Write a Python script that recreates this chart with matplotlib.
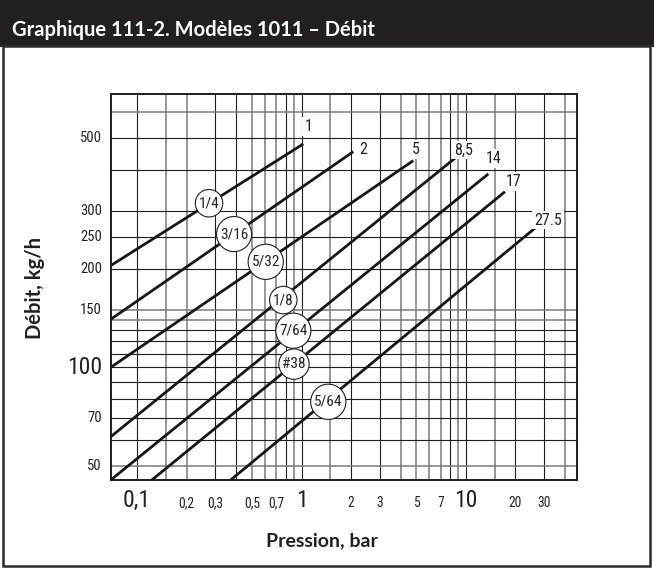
import matplotlib.pyplot as plt
from matplotlib.patches import Rectangle
from matplotlib.transforms import blended_transform_factory

# orifice lines (pressure in bar, flow in kg/h)
orifices = ['1/4', '3/16', '5/32', '1/8', '7/64', '#38', '5/64']
end_labels = ['1', '2', '5', '8,5', '14', '17', '27.5']
p_start = [0.0692, 0.0692, 0.0692, 0.0692, 0.0692, 0.123, 0.371]
q_start = [204.5, 140.2, 100.0, 61.4, 45.3, 45.3, 45.3]
p_end = [1.025, 2.065, 4.78, 8.57, 13.67, 17.26, 26.9]
q_end = [481, 455.6, 427.7, 435, 389.6, 343.8, 268.8]

# circled orifice tags along each line
tag_p = [0.274, 0.389, 0.606, 0.775, 0.892, 0.900, 1.455]
tag_q = [317, 255.3, 210, 160.5, 129.4, 102.3, 78.5]

# number at the end of each line
lab_p = [1.10, 2.375, 4.97, 9.63, 14.66, 19.4, 31.6]
lab_q = [543, 463, 463, 461, 435, 369, 281.7]

x_ticks = [0.1, 0.2, 0.3, 0.5, 0.7, 1, 2, 3, 5, 7, 10, 20, 30]
x_tick_labels = ['0,1', '0,2', '0,3', '0,5', '0,7', '1', '2', '3', '5', '7', '10', '20', '30']
y_ticks = [50, 70, 100, 150, 200, 250, 300, 500]
y_tick_labels = ['50', '70', '100', '150', '200', '250', '300', '500']
big_x = [0.1, 1, 10]
big_y = [100]

# grid lines (some print dark, some light)
vgrid_dark = [0.1, 0.3, 0.4, 0.8, 1, 2, 3, 8, 10, 20, 30]
vgrid_light = [0.15, 0.2, 0.5, 0.6, 0.7, 0.9, 1.5, 4, 5, 6, 7, 9, 15, 40]
hgrid_dark = [60, 70, 80, 90, 100, 110, 120, 130, 200, 250, 300, 400, 500]
hgrid_light = [50, 140, 150, 600]

narrow = ['Roboto Condensed', 'Archivo Narrow', 'DejaVu Sans']
bold = ['Lato', 'DejaVu Sans']

fig = plt.figure(figsize=(6.54, 5.70), dpi=100)
ax = fig.add_axes([0.1693, 0.1579, 0.7134, 0.6767])
ax.set_xscale('log')
ax.set_yscale('log')
ax.set_xlim(0.0692, 47.5)
ax.set_ylim(45.3, 682)

for v in vgrid_dark:
    ax.axvline(v, color='#1e1e1e', lw=0.8, zorder=1)
for v in vgrid_light:
    ax.axvline(v, color='#7a7a7a', lw=1.1, zorder=1)
for h in hgrid_dark:
    ax.axhline(h, color='#1e1e1e', lw=0.8, zorder=1)
for h in hgrid_light:
    ax.axhline(h, color='#7a7a7a', lw=1.1, zorder=1)

for i in range(len(orifices)):
    ax.plot([p_start[i], p_end[i]], [q_start[i], q_end[i]], color='#161616',
            lw=2.0, solid_capstyle='butt', zorder=3)
    ax.text(tag_p[i], tag_q[i], orifices[i], ha='center', va='center',
            fontsize=11, family=narrow, color='#222222', zorder=6,
            bbox=dict(boxstyle='circle,pad=0.22', fc='white', ec='#1e1e1e', lw=0.8))
    ax.text(lab_p[i], lab_q[i], end_labels[i], ha='center', va='center',
            fontsize=11.5, family=narrow, color='#222222', zorder=6,
            bbox=dict(boxstyle='square,pad=0.12', fc='white', ec='none'))

ax.set_xticks([])
ax.set_yticks([])
ax.minorticks_off()
ax.tick_params(which='both', length=0, labelbottom=False, labelleft=False)
for s in ax.spines.values():
    s.set_linewidth(1.4)
    s.set_color('#1e1e1e')

tx = blended_transform_factory(ax.transData, ax.transAxes)
for v, t in zip(x_ticks, x_tick_labels):
    ax.text(v, -0.0708, t, transform=tx, ha='center', va='baseline', color='#222222',
            fontsize=17 if v in big_x else 9.8, family=narrow, clip_on=False)
ty = blended_transform_factory(ax.transAxes, ax.transData)
for v, t in zip(y_ticks, y_tick_labels):
    ax.text(-0.0186, v, t, transform=ty, ha='right', va='center', color='#222222',
            fontsize=17 if v in big_y else 10.5, family=narrow, clip_on=False)

fig.text(0.0535, 0.4947, 'Débit, kg/h', rotation=90, ha='center', va='center',
         fontsize=14.5, fontweight='bold', family=bold, color='#231f20')
fig.text(0.493, 0.0509, 'Pression, bar', ha='center', va='center',
         fontsize=14, fontweight='bold', family=bold, color='#231f20')

# title bar and outer frame
fig.patches.append(Rectangle((0, (570 - 47) / 570), 1, 47 / 570,
                             transform=fig.transFigure, fc='#231f20', ec='none', zorder=0))
fig.patches.append(Rectangle((3 / 654, (570 - 566) / 570), 647 / 654, (566 - 46) / 570,
                             transform=fig.transFigure, fc='none', ec='#2b2b2b', lw=1.8, zorder=0))
fig.text(12 / 654, (570 - 30) / 570, 'Graphique 111-2. Modèles 1011 – Débit',
         ha='left', va='center', fontsize=14.5, fontweight='bold', family=bold, color='white')

fig.savefig('out.png', dpi=100)
